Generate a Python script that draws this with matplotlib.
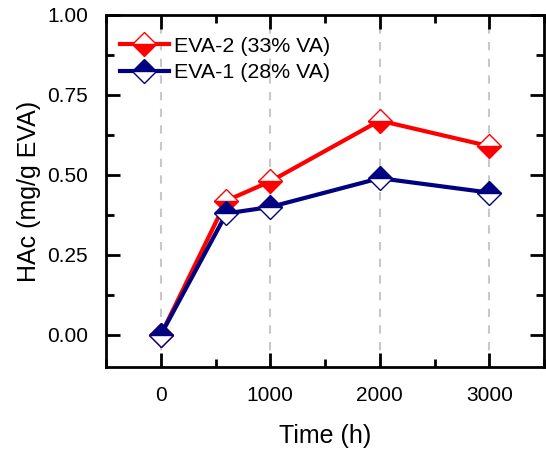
import numpy as np
import matplotlib
matplotlib.use("Agg")
import matplotlib.pyplot as plt
from matplotlib.ticker import MultipleLocator

plt.rcParams['font.family'] = ['Liberation Sans', 'DejaVu Sans']

# data
time_h = [0, 600, 1000, 2000, 3000]
eva2 = [0.0, 0.42, 0.48, 0.67, 0.59]
eva1 = [0.0, 0.38, 0.40, 0.49, 0.445]
red = '#ff0000'
navy = '#000080'

fig = plt.figure(figsize=(5.46, 4.5), dpi=100)
ax = fig.add_axes([106/546, 1 - 367/450, (544-106)/546, (367-15)/450])

# vertical dashed grid at major ticks
for xv in [0, 1000, 2000, 3000]:
    ax.axvline(xv, color='#c8c8c8', lw=1.5, ls=(0, (4, 4)), zorder=0)

l2, = ax.plot(time_h, eva2, color=red, lw=3, marker='D', ms=12,
              fillstyle='bottom', markerfacecolor=red, markerfacecoloralt='white',
              markeredgecolor=red, markeredgewidth=1, zorder=3)
l1, = ax.plot(time_h, eva1, color=navy, lw=3, marker='D', ms=12,
              fillstyle='top', markerfacecolor=navy, markerfacecoloralt='white',
              markeredgecolor=navy, markeredgewidth=1, zorder=4)

ax.set_xlim(-500, 3500)
ax.set_ylim(-0.1, 1.0)
ax.xaxis.set_major_locator(MultipleLocator(1000))
ax.xaxis.set_minor_locator(MultipleLocator(500))
ax.yaxis.set_major_locator(MultipleLocator(0.25))
ax.yaxis.set_minor_locator(MultipleLocator(0.125))
ax.yaxis.set_major_formatter(plt.FormatStrFormatter('%.2f'))

ax.tick_params(which='both', direction='in', top=True, right=True, width=2, labelsize=15)
ax.tick_params(which='major', length=10)
ax.tick_params(which='minor', length=6)
ax.tick_params(axis='y', which='major', pad=13)
ax.tick_params(axis='x', which='major', pad=14)
for s in ax.spines.values():
    s.set_linewidth(2)

ax.set_xlabel('Time (h)', fontsize=18, labelpad=13)
ax.set_ylabel('HAc (mg/g EVA)', fontsize=18, labelpad=4)

ax.legend([l2, l1], ['EVA-2 (33% VA)', 'EVA-1 (28% VA)'], loc='upper left',
          bbox_to_anchor=(0.012, 0.962), borderaxespad=0, borderpad=0.4,
          frameon=False, fontsize=15.4, handlelength=2.3, handletextpad=0.25,
          labelspacing=0.33)

fig.savefig('out.png', dpi=100)
